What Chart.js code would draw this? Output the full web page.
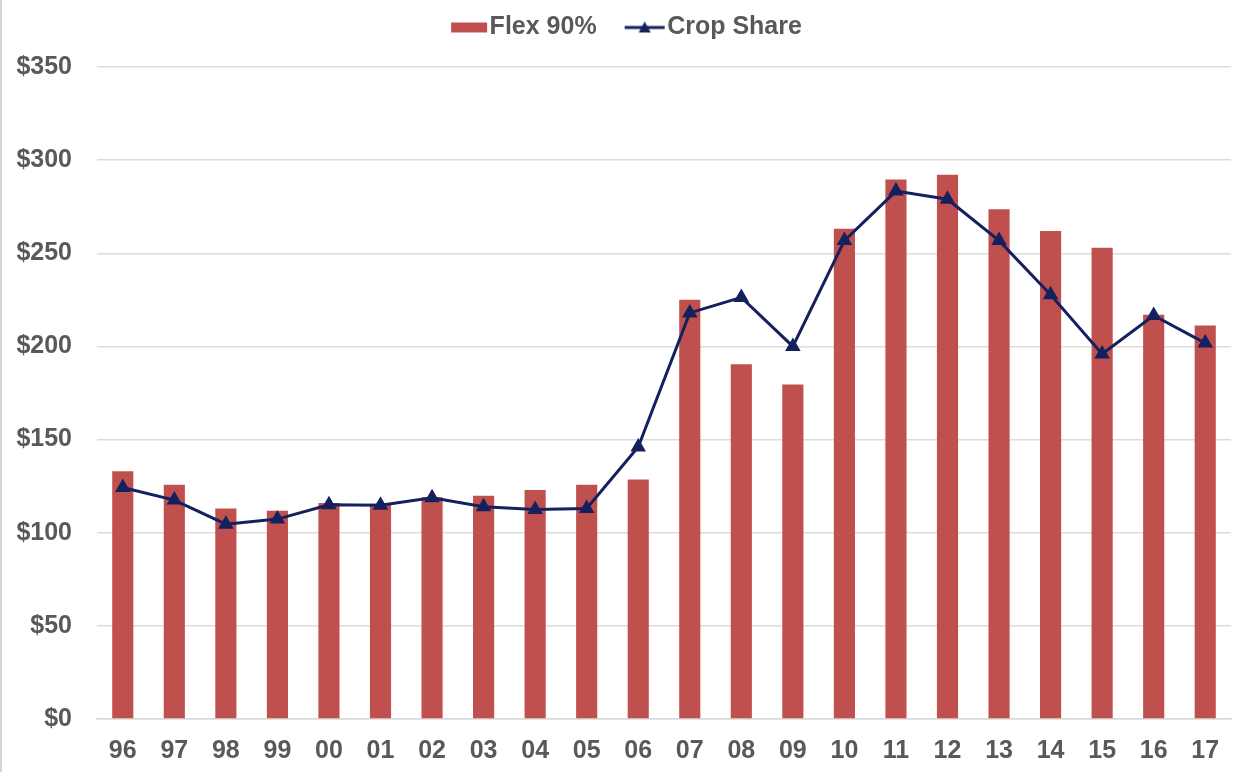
<!DOCTYPE html>
<html>
<head>
<meta charset="utf-8">
<script src="https://cdn.jsdelivr.net/npm/chart.js@4/dist/chart.umd.min.js"></script>
<style>
  html, body { margin: 0; padding: 0; background: #ffffff; }
  #wrap { position: relative; width: 1247px; height: 772px; box-sizing: border-box; border-left: 2px solid #d6d6d6; }
  canvas { display: block; }
</style>
</head>
<body>
<div id="wrap"><canvas id="c" width="1245" height="772"></canvas></div>
<script>
const categories = ['96','97','98','99','00','01','02','03','04','05','06','07','08','09','10','11','12','13','14','15','16','17'];
const flex90 = [133, 125.7, 113, 111.8, 116, 115.5, 119, 119.8, 122.9, 125.7, 128.6, 225, 190.5, 179.6, 263.2, 289.6, 292.1, 273.6, 262, 253, 217, 211.3];
const cropShare = [124.3, 117.5, 104.6, 107.3, 115, 114.8, 118.8, 113.9, 112.5, 113, 146, 218, 226.3, 200, 256.8, 283.4, 279, 256.8, 227.7, 196, 216.6, 201.8];
const seriesNames = ['Flex 90%', 'Crop Share'];
const yTicks = [0, 50, 100, 150, 200, 250, 300, 350];

const RED = '#C0504D';
const NAVY = '#14215E';
const TEXT = '#595959';
const FONT = "'Liberation Sans', Arial, sans-serif";
const FS = 25;

function makeBarIcon() {
  const cv = document.createElement('canvas');
  cv.width = 72; cv.height = 12;
  const g = cv.getContext('2d');
  g.fillStyle = RED; g.fillRect(33, 1, 36, 10);
  return cv;
}
function makeLineIcon() {
  const cv = document.createElement('canvas');
  cv.width = 72; cv.height = 14;
  const g = cv.getContext('2d');
  g.strokeStyle = NAVY; g.lineWidth = 3;
  g.beginPath(); g.moveTo(29, 7); g.lineTo(69, 7); g.stroke();
  g.fillStyle = NAVY;
  g.beginPath(); g.moveTo(49, 1); g.lineTo(55, 12); g.lineTo(43, 12); g.closePath(); g.fill();
  return cv;
}
const icons = [makeBarIcon(), makeLineIcon()];

const legendHeightPlugin = {
  id: 'legendHeight',
  beforeInit(chart) {
    const lg = chart.legend;
    if (lg) {
      const orig = lg.fit;
      lg.fit = function () { orig.call(this); this.height = 64; };
    }
  }
};

new Chart(document.getElementById('c'), {
  plugins: [legendHeightPlugin],
  data: {
    labels: categories,
    datasets: [
      {
        type: 'bar',
        label: seriesNames[0],
        data: flex90,
        backgroundColor: RED,
        borderWidth: 0,
        barPercentage: 0.41,
        categoryPercentage: 1.0,
        order: 2
      },
      {
        type: 'line',
        label: seriesNames[1],
        data: cropShare,
        borderColor: NAVY,
        backgroundColor: NAVY,
        borderWidth: 3,
        pointStyle: 'triangle',
        pointRadius: 6,
        pointBackgroundColor: NAVY,
        pointBorderColor: NAVY,
        tension: 0,
        order: 1
      }
    ]
  },
  options: {
    responsive: false,
    animation: false,
    layout: { padding: { top: 3, right: 16, bottom: -11, left: 0 } },
    plugins: {
      tooltip: { enabled: false },
      legend: {
        position: 'top',
        labels: {
          usePointStyle: true,
          pointStyleWidth: 46,
          padding: 12,
          color: TEXT,
          font: { family: FONT, size: FS, weight: 'bold' },
          generateLabels: (chart) => chart.data.datasets.map((ds, i) => ({
            text: ds.label,
            pointStyle: icons[i],
            fillStyle: i === 0 ? RED : NAVY,
            strokeStyle: i === 0 ? RED : NAVY,
            lineWidth: 0,
            hidden: false,
            datasetIndex: i,
            fontColor: TEXT
          }))
        }
      }
    },
    scales: {
      x: {
        grid: { display: false, drawTicks: false },
        border: { display: true, color: '#d9d9d9', width: 1.5 },
        ticks: { color: TEXT, font: { family: FONT, size: FS, weight: 'bold' }, padding: 17, maxRotation: 0, autoSkip: false }
      },
      y: {
        min: 0,
        max: 350,
        afterBuildTicks: (axis) => { axis.ticks = yTicks.map(v => ({ value: v })); },
        afterFit: (axis) => { axis.width = 95; },
        grid: { color: '#dcdcdc', lineWidth: 1.5, drawTicks: false },
        border: { display: false },
        ticks: {
          color: TEXT,
          font: { family: FONT, size: FS, weight: 'bold' },
          padding: 25,
          callback: (v) => '$' + v
        }
      }
    }
  }
});
</script>
</body>
</html>
